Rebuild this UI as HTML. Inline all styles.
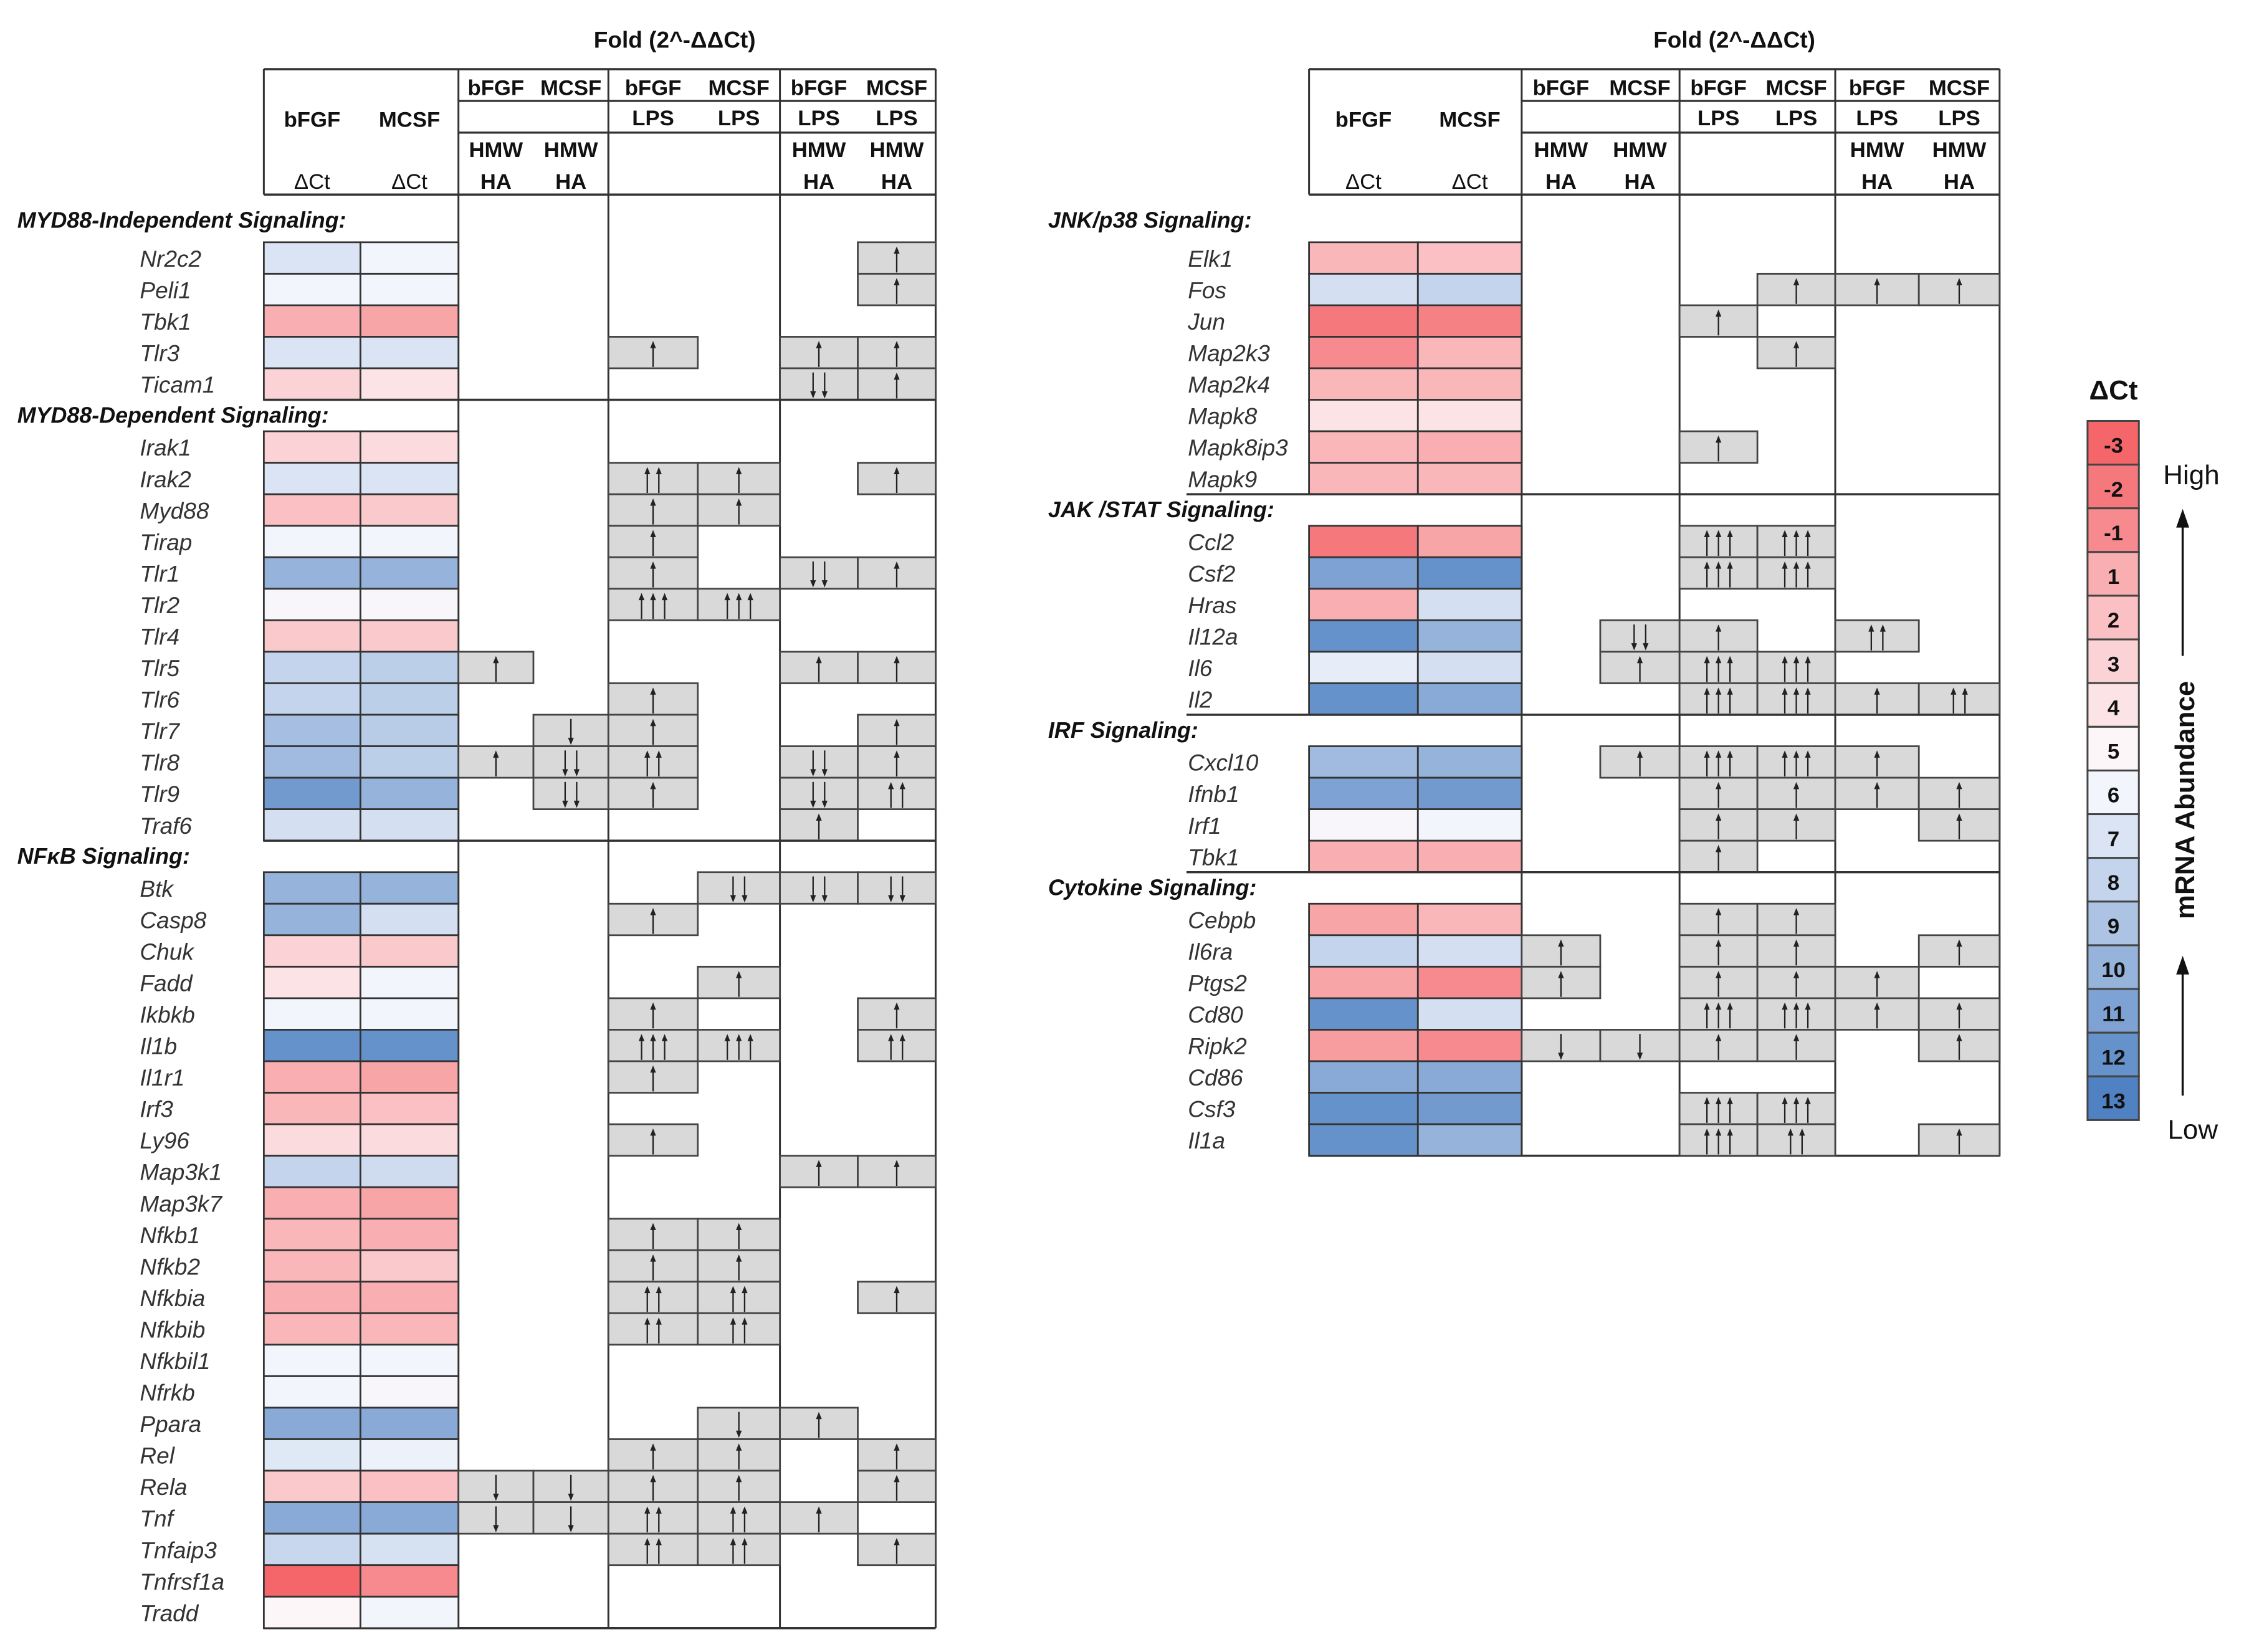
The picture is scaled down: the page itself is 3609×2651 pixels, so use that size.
<!DOCTYPE html>
<html><head><meta charset="utf-8">
<style>
html,body{margin:0;padding:0;background:#fff;}
svg{display:block;}
text{font-family:"Liberation Sans",Arial,sans-serif;}
</style></head>
<body>
<svg id="chart" xmlns="http://www.w3.org/2000/svg" width="3609" height="2651" viewBox="0 0 1560 1146" preserveAspectRatio="none">
<rect x="0" y="0" width="1560" height="1146" fill="#fff"/>
<g id="layer"></g>
</svg>
<script>
// ---------- DATA ----------
const leftSections = ["MYD88-Independent  Signaling:", "MYD88-Dependent  Signaling:", "NF\u03BAB Signaling:"];
const leftSectionSizes = [5, 13, 24];
const leftGenes = ["Nr2c2","Peli1","Tbk1","Tlr3","Ticam1",
 "Irak1","Irak2","Myd88","Tirap","Tlr1","Tlr2","Tlr4","Tlr5","Tlr6","Tlr7","Tlr8","Tlr9","Traf6",
 "Btk","Casp8","Chuk","Fadd","Ikbkb","Il1b","Il1r1","Irf3","Ly96","Map3k1","Map3k7","Nfkb1","Nfkb2","Nfkbia","Nfkbib","Nfkbil1","Nfrkb","Ppara","Rel","Rela","Tnf","Tnfaip3","Tnfrsf1a","Tradd"];
const leftBfgfCt = [7,6,1,7,3, 3,7,2,6,10,5.5,2.5,8,8,9.3,9.5,11.5,7.3,
 10,10,3,4,6,12,1,1.5,3.5,8,1,1.5,1.5,1,1.5,6,6,10.5,6.8,2.5,10.5,7.8,-3,5];
const leftMcsfCt = [6,6,0.5,7,4, 3.5,7,2.5,6,10,5.5,2.5,8.3,8.3,8.5,8.3,10,7.3,
 10,7.3,2.5,6,6,12,0.5,2,3.5,7.5,0.5,1,2.5,1,1.5,6,5.5,10.5,6.2,2,10.5,7.2,-1,6];
const leftFold = [
 [0,0,0,0,0,1],[0,0,0,0,0,1],[0,0,0,0,0,0],[0,0,1,0,1,1],[0,0,0,0,-2,1],
 [0,0,0,0,0,0],[0,0,2,1,0,1],[0,0,1,1,0,0],[0,0,1,0,0,0],[0,0,1,0,-2,1],[0,0,3,3,0,0],[0,0,0,0,0,0],[1,0,0,0,1,1],[0,0,1,0,0,0],[0,-1,1,0,0,1],[1,-2,2,0,-2,1],[0,-2,1,0,-2,2],[0,0,0,0,1,0],
 [0,0,0,-2,-2,-2],[0,0,1,0,0,0],[0,0,0,0,0,0],[0,0,0,1,0,0],[0,0,1,0,0,1],[0,0,3,3,0,2],[0,0,1,0,0,0],[0,0,0,0,0,0],[0,0,1,0,0,0],[0,0,0,0,1,1],[0,0,0,0,0,0],[0,0,1,1,0,0],[0,0,1,1,0,0],[0,0,2,2,0,1],[0,0,2,2,0,0],[0,0,0,0,0,0],[0,0,0,0,0,0],[0,0,0,-1,1,0],[0,0,1,1,0,1],[-1,-1,1,1,0,1],[-1,-1,2,2,1,0],[0,0,2,2,0,1],[0,0,0,0,0,0],[0,0,0,0,0,0]];

const rightSections = ["JNK/p38  Signaling:", "JAK /STAT Signaling:", "IRF Signaling:", "Cytokine  Signaling:"];
const rightSectionSizes = [8, 6, 4, 8];
const rightGenes = ["Elk1","Fos","Jun","Map2k3","Map2k4","Mapk8","Mapk8ip3","Mapk9",
 "Ccl2","Csf2","Hras","Il12a","Il6","Il2",
 "Cxcl10","Ifnb1","Irf1","Tbk1",
 "Cebpb","Il6ra","Ptgs2","Cd80","Ripk2","Cd86","Csf3","Il1a"];
const rightBfgfCt = [1.5,7.3,-2,-1,1.5,4,1.5,1.5, -2,11,1,12,6.5,12, 9.5,11,5.5,1, 0.5,8,0.5,12,0,10.5,12,12];
const rightMcsfCt = [2,8,-1.5,1.5,1.5,4,1,1.5, 0.5,12,7.3,10,7.3,10.5, 10,11.5,6,1, 1.5,7.3,-1,7.3,-1,10.5,11.5,10];
const rightFold = [
 [0,0,0,0,0,0],[0,0,0,1,1,1],[0,0,1,0,0,0],[0,0,0,1,0,0],[0,0,0,0,0,0],[0,0,0,0,0,0],[0,0,1,0,0,0],[0,0,0,0,0,0],
 [0,0,3,3,0,0],[0,0,3,3,0,0],[0,0,0,0,0,0],[0,-2,1,0,2,0],[0,1,3,3,0,0],[0,0,3,3,1,2],
 [0,1,3,3,1,0],[0,0,1,1,1,1],[0,0,1,1,0,1],[0,0,1,0,0,0],
 [0,0,1,1,0,0],[1,0,1,1,0,1],[1,0,1,1,1,0],[0,0,3,3,1,1],[-1,-1,1,1,0,1],[0,0,0,0,0,0],[0,0,3,3,0,0],[0,0,3,2,0,1]];

const legendValues = [-3,-2,-1,1,2,3,4,5,6,7,8,9,10,11,12,13];
const legendLabels = ["-3","-2","-1","1","2","3","4","5","6","7","8","9","10","11","12","13"];

// ---------- HELPERS ----------
const NS = "http://www.w3.org/2000/svg";
const layer = document.getElementById("layer");
const PITCH = 21.85;
function mk(tag, attrs, parent){
  const el = document.createElementNS(NS, tag);
  for (const k in attrs) el.setAttribute(k, attrs[k]);
  (parent||layer).appendChild(el);
  return el;
}
function lerp(a,b,t){return Math.round(a+(b-a)*t);}
function colorFor(v){
  let c;
  if (v <= 5){
    const t = Math.min(1, (5 - v) / 8);
    c = [lerp(253,244,t), lerp(246,102,t), lerp(248,106,t)];
  } else if (v >= 6){
    const t = Math.min(1, (v - 6) / 7);
    c = [lerp(242,79,t), lerp(245,129,t), lerp(252,195,t)];
  } else {
    const t = v - 5;
    c = [lerp(253,242,t), lerp(246,245,t), lerp(248,252,t)];
  }
  return "rgb("+c.join(",")+")";
}
function rowY(i){ return i === 0 ? 153 : 179 + PITCH*(i-1); }

function drawArrows(cx, yc, n, g){
  const cnt = Math.abs(n);
  for (let k=0;k<cnt;k++){
    const x = cx + (k-(cnt-1)/2)*8;
    const up = n > 0;
    const y1 = yc + 10, y2 = yc - 8;
    const line = mk("line",{x1:x,y1:up?y1:y2,x2:x,y2:up?y2+3:y1-3,stroke:"#222","stroke-width":1},g);
    
    
    const head = up ? `${x-2},${y2+5} ${x+2},${y2+5} ${x},${y2}` : `${x-2},${y1-5} ${x+2},${y1-5} ${x},${y1}`;
    const p = mk("polygon",{points:head,fill:"#222"},g);
    
    
  }
}

function drawTable(cfg){
  const g = mk("g",{});
  
  
  const X = cfg.cols;
  const right = X[8];
  const title = mk("text",{x:cfg.titleX,y:33,"font-size":16,"font-weight":"bold","text-anchor":"middle",fill:"#111"},g);
  title.textContent = "Fold (2^-\u0394\u0394Ct)";
  
  
  const L = (x1,y1,x2,y2,w,nm)=>{const l=mk("line",{x1,y1,x2,y2,stroke:"#333","stroke-width":w||1.3},g);   return l;};
  L(X[0],48,right,48,1.5,'header-top-line');
  L(X[0],48,X[0],135,1.3,'header-left-line');
  L(X[2],70,right,70,1.5,'header-row1-line');
  L(X[2],92,right,92,1.5,'header-row2-line');
  L(X[0],135,right,135,1.5,'header-bottom-line');
  L(X[4],92,X[4],135,1.3);
  L(X[6],92,X[6],135,1.3);
  const T=(x,y,s,bold,nm)=>{const t=mk("text",{x,y,"font-size":15,"font-weight":bold?"bold":"normal","text-anchor":"middle",fill:"#111"},g); t.textContent=s;   return t;};
  const c1=(X[0]+X[1])/2, c2=(X[1]+X[2])/2;
  T(c1,88,"bFGF",true,'col-header-bfgf');
  T(c2,88,"MCSF",true,'col-header-mcsf');
  T(c1,131,"\u0394Ct",false,'col-unit-dct');
  T(c2,131,"\u0394Ct",false,'col-unit-dct');
  const names=["bFGF","MCSF","bFGF","MCSF","bFGF","MCSF"];
  const fc=[];
  for(let k=0;k<6;k++) fc.push((X[2+k]+X[3+k])/2);
  for(let k=0;k<6;k++){
    T(fc[k],66,names[k],true,'fold-col-header');
    if(k>=2) T(fc[k],87,"LPS",true,'fold-col-lps');
    if(k<2||k>=4){ T(fc[k],109,"HMW",true,'fold-col-hmw'); T(fc[k],131,"HA",true,'fold-col-ha'); }
  }
  const bottom = rowY(cfg.totalRows-1)+PITCH/2;
  [X[2],X[4],X[6],X[8]].forEach(x=>L(x,48,x,bottom,1.3,'column-divider'));
  L(X[0],bottom,right,bottom,1.5,'table-bottom-line');
  let idx=0, gi=0;
  const h=PITCH;
  cfg.sections.forEach((sec,si)=>{
    const yh=rowY(idx);
    if(si>0) L(cfg.sepStart,yh-h/2,right,yh-h/2,1.5,'section-divider');
    const st=mk("text",{x:cfg.secX,y:yh+5,"font-size":15.5,"font-weight":"bold","font-style":"italic",fill:"#111"},g);
    st.textContent=sec;
    
    
    idx++;
    for(let r=0;r<cfg.sizes[si];r++){
      const yc=rowY(idx);
      const lb=mk("text",{x:cfg.labelX,y:yc+6,"font-size":16,"font-style":"italic",fill:"#333"},g);
      lb.textContent=cfg.genes[gi];
      
      
      const r1=mk("rect",{x:X[0],y:yc-h/2,width:X[1]-X[0],height:h,fill:colorFor(cfg.b[gi]),stroke:"#333","stroke-width":1.2},g);
      
      
      const r2=mk("rect",{x:X[1],y:yc-h/2,width:X[2]-X[1],height:h,fill:colorFor(cfg.m[gi]),stroke:"#333","stroke-width":1.2},g);
      
      
      const f=cfg.fold[gi];
      for(let k=0;k<6;k++){
        if(f[k]!==0){
          const gr=mk("rect",{x:X[2+k],y:yc-h/2,width:X[3+k]-X[2+k],height:h,fill:"#d9d9d9",stroke:"#444","stroke-width":1.2},g);
          
          
          drawArrows(fc[k],yc,f[k],g);
        }
      }
      idx++; gi++;
    }
  });
}

const leftTotal = leftSections.length + leftGenes.length;
drawTable({name:"left-table",cols:[183,250,318,370,422,484,541,595,649],labelX:97,secX:12,sepStart:183,titleX:468,
  sections:leftSections,sizes:leftSectionSizes,genes:leftGenes,b:leftBfgfCt,m:leftMcsfCt,fold:leftFold,totalRows:leftTotal});
const rightTotal = rightSections.length + rightGenes.length;
drawTable({name:"right-table",cols:[908,983.5,1055.5,1110,1165,1219,1273,1331,1387],labelX:824,secX:727,sepStart:823,titleX:1203,
  sections:rightSections,sizes:rightSectionSizes,genes:rightGenes,b:rightBfgfCt,m:rightMcsfCt,fold:rightFold,totalRows:rightTotal});

// ---------- LEGEND ----------
const lg = mk("g",{});


const lt = mk("text",{x:1466,y:277,"font-size":19,"font-weight":"bold","text-anchor":"middle",fill:"#111"},lg);
lt.textContent="\u0394Ct";


const legTop=292, legH=485/legendValues.length;
legendValues.forEach((v,i)=>{
  const r=mk("rect",{x:1448,y:legTop+i*legH,width:35.6,height:legH,fill:colorFor(v),stroke:"#444","stroke-width":1.3},lg);
  
  
  const t=mk("text",{x:1466,y:legTop+i*legH+legH/2+7,"font-size":15,"font-weight":"bold","text-anchor":"middle",fill:"#111"},lg);
  t.textContent=legendLabels[i];
  
  
});
const hi=mk("text",{x:1520,y:336,"font-size":19,"text-anchor":"middle",fill:"#111"},lg);
hi.textContent="High";


const lo=mk("text",{x:1521,y:790,"font-size":19,"text-anchor":"middle",fill:"#111"},lg);
lo.textContent="Low";


const a1=mk("line",{x1:1514,y1:362,x2:1514,y2:455,stroke:"#111","stroke-width":1.5},lg);


const h1=mk("polygon",{points:"1509.5,366 1518.5,366 1514,353",fill:"#111"},lg);


const a2=mk("line",{x1:1514,y1:672,x2:1514,y2:760,stroke:"#111","stroke-width":1.5},lg);


const h2=mk("polygon",{points:"1509.5,676 1518.5,676 1514,663",fill:"#111"},lg);


const ab=mk("text",{x:1522,y:555,"font-size":19,"font-weight":"bold","text-anchor":"middle",fill:"#111",transform:"rotate(-90 1522 555)"},lg);
ab.textContent="mRNA Abundance";


</script>
</body></html>
